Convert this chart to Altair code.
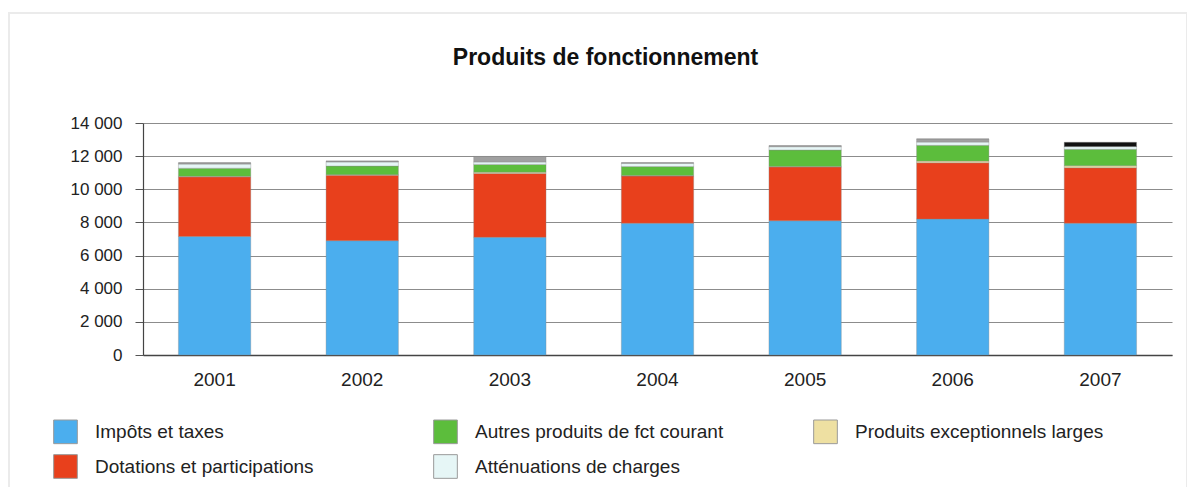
import altair as alt
import pandas as pd

years = ["2001", "2002", "2003", "2004", "2005", "2006", "2007"]
impots = [7150, 6900, 7100, 7950, 8100, 8200, 7950]
dotations = [3600, 3950, 3850, 2850, 3250, 3400, 3350]
exceptionnels = [30, 30, 80, 30, 30, 100, 120]
autres = [490, 520, 470, 540, 990, 950, 990]
attenuations = [250, 250, 150, 200, 200, 200, 170]
financiers = [80, 50, 330, 30, 60, 190, 0]
reprises = [0, 0, 0, 0, 0, 0, 260]

series_names = [
    "Impôts et taxes",
    "Dotations et participations",
    "Produits exceptionnels larges",
    "Autres produits de fct courant",
    "Atténuations de charges",
    "Produits financiers",
    "Reprises sur provisions",
]
series_values = [impots, dotations, exceptionnels, autres, attenuations, financiers, reprises]
series_colors = ["#4baeee", "#e8401c", "#eee0a2", "#5cbd3c", "#e6f6f6", "#a0a0a0", "#111111"]
legend_order = [
    "Impôts et taxes",
    "Autres produits de fct courant",
    "Produits exceptionnels larges",
    "Dotations et participations",
    "Atténuations de charges",
]

rows = []
for rank, (name, vals) in enumerate(zip(series_names, series_values)):
    for y, v in zip(years, vals):
        rows.append({"annee": y, "serie": name, "valeur": v, "rang": rank})
df = pd.DataFrame(rows)

FONT = "Liberation Sans"

frame = alt.Chart(pd.DataFrame({"a": [0]})).mark_rect(
    filled=False, stroke="#ebebeb", strokeWidth=2
).encode(
    x=alt.value(-134), x2=alt.value(1044), y=alt.value(-110), y2=alt.value(366)
)

bars = alt.Chart(df).mark_bar(
    stroke="#888888", strokeWidth=0.6, strokeOpacity=0.6
).encode(
    x=alt.X(
        "annee:N",
        title=None,
        sort=years,
        scale=alt.Scale(paddingInner=0.51, paddingOuter=0.24),
        axis=alt.Axis(
            labelAngle=0, ticks=False, labelPadding=15, labelFontSize=19,
            labelFont=FONT, labelColor="#222222", domainColor="#444444",
            domainWidth=1.5, grid=False,
        ),
    ),
    y=alt.Y(
        "sum(valeur):Q",
        title=None,
        stack="zero",
        scale=alt.Scale(domain=[0, 14000], nice=False),
        axis=alt.Axis(
            values=[0, 2000, 4000, 6000, 8000, 10000, 12000, 14000],
            labelExpr="replace(format(datum.value, ','), ',', ' ')",
            labelFontSize=17, labelFont=FONT, labelColor="#222222",
            tickSize=8, tickColor="#555555", labelPadding=13,
            domainColor="#444444", domainWidth=1.2,
            gridColor="#8c8c8c", gridWidth=1.2,
        ),
    ),
    color=alt.Color(
        "serie:N",
        scale=alt.Scale(domain=series_names, range=series_colors),
        legend=alt.Legend(
            title=None,
            values=legend_order,
            orient="none",
            legendX=-90,
            legendY=296,
            columns=3,
            direction="horizontal",
            gridAlign="all",
            columnPadding=87,
            rowPadding=6,
            symbolType="square",
            symbolSize=560,
            symbolStrokeColor="#9a9a9a",
            symbolStrokeWidth=1,
            labelFont=FONT,
            labelFontSize=19,
            labelColor="#222222",
            labelOffset=17,
            labelLimit=400,
            padding=0,
        ),
    ),
    order=alt.Order("rang:Q", sort="ascending"),
)

chart = alt.layer(frame, bars).properties(
    width=1029,
    height=232,
    autosize=alt.AutoSizeParams(type="none"),
    padding={"left": 135, "top": 115, "right": 15, "bottom": 132},
    title=alt.TitleParams(
        "Produits de fonctionnement",
        anchor="middle",
        dx=-52,
        offset=-76,
        baseline="alphabetic",
        font=FONT,
        fontSize=23,
        fontWeight="bold",
        color="#111111",
    ),
).configure_view(stroke=None)

chart.save("out.html", embed_options={"renderer": "svg", "actions": False})
